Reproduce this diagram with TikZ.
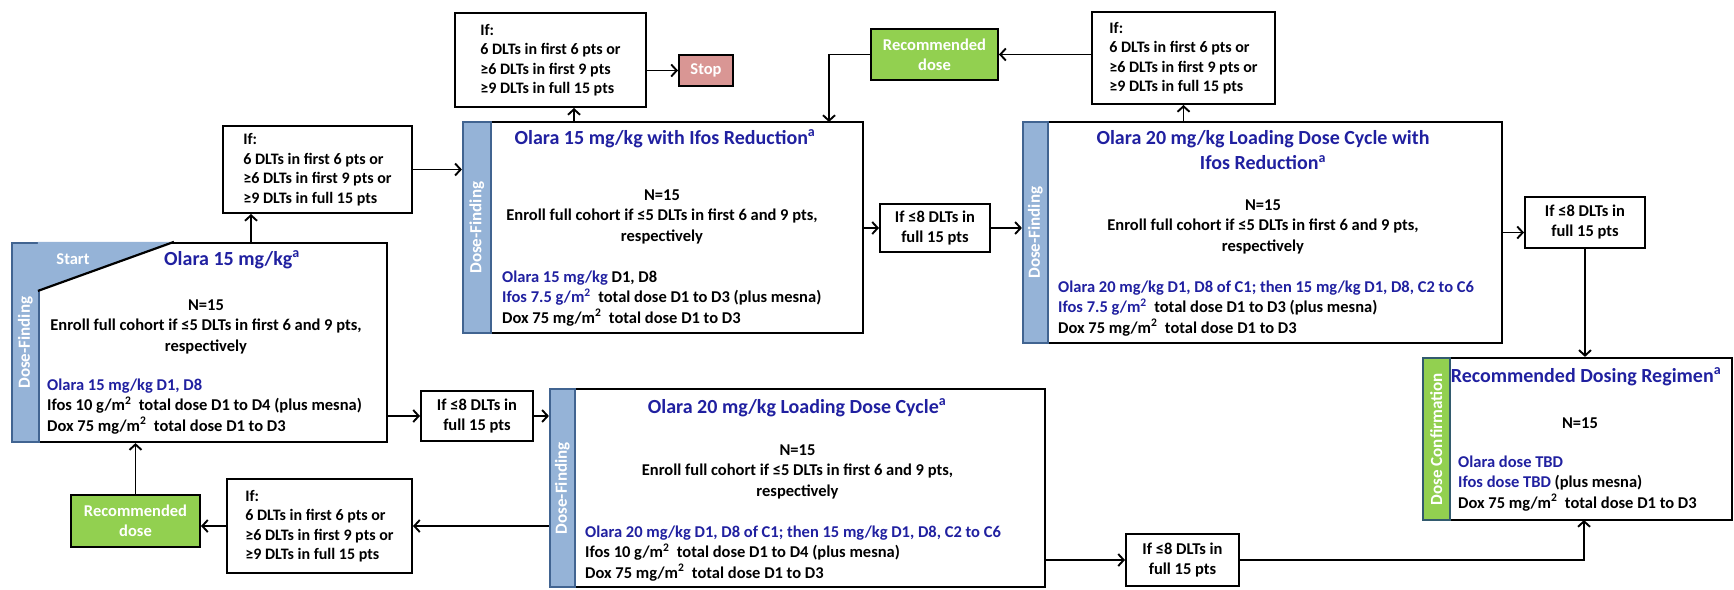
\documentclass[tikz,border=0pt]{standalone}
\usepackage{fontspec}
\setmainfont{Carlito}
\usetikzlibrary{arrows.meta,calc}
\definecolor{olblue}{RGB}{32,32,160}
\definecolor{sideblue}{RGB}{149,179,215}
\definecolor{sideedge}{RGB}{65,100,145}
\definecolor{recgreen}{RGB}{146,208,80}
\definecolor{greenedge}{RGB}{50,90,110}
\definecolor{stopred}{RGB}{217,150,148}

\begin{document}
\begin{tikzpicture}[
    x=1pt, y=-1pt,
    >={Straight Barb[length=5.5pt,width=12pt]},
    arr/.style={->, line width=1.9pt},
    bigbox/.style={draw, line width=2.2pt, inner sep=0pt},
    sidebar/.style={draw=sideedge, fill=sideblue, line width=1.8pt, rotate=90,
        anchor=north west, text=white, inner sep=0pt,
        font=\bfseries\fontsize{17}{18}\selectfont},
    body/.style={inner sep=0pt, font=\bfseries\fontsize{16.5}{20.5}\selectfont},
    title/.style={inner sep=0pt, text=olblue, font=\bfseries\fontsize{20}{25}\selectfont},
    ifbox/.style={draw, line width=2pt, align=left, inner sep=0pt,
        font=\bfseries\fontsize{16}{19.5}\selectfont},
    passbox/.style={draw, line width=2pt, align=center, inner sep=0pt,
        font=\bfseries\fontsize{16.5}{20}\selectfont},
    recbox/.style={draw, line width=2pt, fill=recgreen, text=white, align=center,
        inner sep=0pt, font=\bfseries\fontsize{16.5}{20}\selectfont},
    stopbox/.style={draw, line width=2pt, fill=stopred, text=white, inner sep=0pt,
        font=\bfseries\fontsize{16.5}{20}\selectfont}]

\useasboundingbox (0,0) rectangle (1734,589);

% dose-finding and confirmation boxes
\node[bigbox, minimum width=375pt, minimum height=199pt] (A) at (199.5,342.5) {};
\node[bigbox, minimum width=400pt, minimum height=211pt] (B) at (663,227.5) {};
\node[bigbox, minimum width=495pt, minimum height=198pt] (C) at (797.5,488) {};
\node[bigbox, minimum width=479pt, minimum height=221pt] (D) at (1262.5,232.5) {};
\node[bigbox, minimum width=309pt, minimum height=162pt] (E) at (1577.5,439) {};

% side labels
\node[sidebar, minimum width=199pt, minimum height=27pt] (A-side) at (A.south west) {Dose-Finding};
\node[sidebar, minimum width=211pt, minimum height=28pt] (B-side) at (B.south west) {Dose-Finding};
\node[sidebar, minimum width=198pt, minimum height=25pt] (C-side) at (C.south west) {Dose-Finding};
\node[sidebar, minimum width=221pt, minimum height=25pt] (D-side) at (D.south west) {Dose-Finding};
\node[sidebar, fill=recgreen, draw=greenedge, minimum width=162pt, minimum height=27pt] (E-side) at (E.south west) {Dose Confirmation};

% start corner
\fill[sideblue] ($(A.north west)+(27,0)$) -- ($(A.north west)+(163,0)$) -- ($(A.north west)+(27,49)$) -- cycle;
\draw[line width=2.2pt] ($(A.north west)+(163,0)$) -- ($(A.north west)+(27,49)$);
\node[body, anchor=base, text=white] (start) at (73,264) {Start};

% texts of box A
\node[title, anchor=base] (A-title) at (232,265) {Olara 15 mg/kg\textsuperscript{a}};
\node[body, anchor=north, align=center] (A-rule) at (206,295.6)
    {\strut N=15\\Enroll full cohort if ≤5 DLTs in first 6 and 9 pts,\\respectively};
\node[body, anchor=north west, align=left] (A-dose) at (47,375.6)
    {\strut\textcolor{olblue}{Olara 15 mg/kg D1, D8}\\
     Ifos 10 g/m\textsuperscript{2}\ \ total dose D1 to D4 (plus mesna)\\
     Dox 75 mg/m\textsuperscript{2}\ \ total dose D1 to D3};

% texts of box B
\node[title, anchor=base] (B-title) at (665,144.5) {Olara 15 mg/kg with Ifos Reduction\textsuperscript{a}};
\node[body, anchor=north, align=center] (B-rule) at (662,185.6)
    {\strut N=15\\Enroll full cohort if ≤5 DLTs in first 6 and 9 pts,\\respectively};
\node[body, anchor=north west, align=left] (B-dose) at (502,267.6)
    {\strut\textcolor{olblue}{Olara 15 mg/kg} D1, D8\\
     \textcolor{olblue}{Ifos 7.5 g/m\textsuperscript{2}}\ \ total dose D1 to D3 (plus mesna)\\
     Dox 75 mg/m\textsuperscript{2}\ \ total dose D1 to D3};

% texts of box C
\node[title, anchor=base] (C-title) at (797,413.5) {Olara 20 mg/kg Loading Dose Cycle\textsuperscript{a}};
\node[body, anchor=north, align=center] (C-rule) at (797.5,440.6)
    {\strut N=15\\Enroll full cohort if ≤5 DLTs in first 6 and 9 pts,\\respectively};
\node[body, anchor=north west, align=left] (C-dose) at (585,522.6)
    {\strut\textcolor{olblue}{Olara 20 mg/kg D1, D8 of C1; then 15 mg/kg D1, D8, C2 to C6}\\
     Ifos 10 g/m\textsuperscript{2}\ \ total dose D1 to D4 (plus mesna)\\
     Dox 75 mg/m\textsuperscript{2}\ \ total dose D1 to D3};

% texts of box D
\node[title, anchor=north, align=center] (D-title) at (1263,127)
    {\strut Olara 20 mg/kg Loading Dose Cycle with\\Ifos Reduction\textsuperscript{a}};
\node[body, anchor=north, align=center] (D-rule) at (1263,195.6)
    {\strut N=15\\Enroll full cohort if ≤5 DLTs in first 6 and 9 pts,\\respectively};
\node[body, anchor=north west, align=left] (D-dose) at (1058,277.6)
    {\strut\textcolor{olblue}{Olara 20 mg/kg D1, D8 of C1; then 15 mg/kg D1, D8, C2 to C6}\\
     \textcolor{olblue}{Ifos 7.5 g/m\textsuperscript{2}}\ \ total dose D1 to D3 (plus mesna)\\
     Dox 75 mg/m\textsuperscript{2}\ \ total dose D1 to D3};

% texts of box E
\node[title, anchor=base] (E-title) at (1586,382.5) {Recommended Dosing Regimen\textsuperscript{a}};
\node[body, anchor=base] (E-n) at (1580,428) {N=15};
\node[body, anchor=north west, align=left] (E-dose) at (1458,452.6)
    {\strut\textcolor{olblue}{Olara dose TBD}\\
     \textcolor{olblue}{Ifos dose TBD} (plus mesna)\\
     Dox 75 mg/m\textsuperscript{2}\ \ total dose D1 to D3};

% stopping rules
\node[ifbox, minimum width=189pt, minimum height=87pt] (F1) at (317.5,169.5)
    {If:\\6 DLTs in first 6 pts or\\≥6 DLTs in first 9 pts or\\≥9 DLTs in full 15 pts};
\node[ifbox, minimum width=191pt, minimum height=94pt] (F2) at (550.5,60)
    {If:\\6 DLTs in first 6 pts or\\≥6 DLTs in first 9 pts\\≥9 DLTs in full 15 pts\hspace{24pt}};
\node[ifbox, minimum width=183pt, minimum height=92pt] (F3) at (1183.5,58)
    {If:\\6 DLTs in first 6 pts or\\≥6 DLTs in first 9 pts or\\≥9 DLTs in full 15 pts};
\node[ifbox, minimum width=185pt, minimum height=94pt] (F4) at (319.5,526)
    {If:\\6 DLTs in first 6 pts or\\≥6 DLTs in first 9 pts or\\≥9 DLTs in full 15 pts};

% passing rules
\node[passbox, minimum width=112pt, minimum height=50pt] (P1) at (477,416) {If ≤8 DLTs in\\full 15 pts};
\node[passbox, minimum width=110pt, minimum height=48pt] (P2) at (935,228) {If ≤8 DLTs in\\full 15 pts};
\node[passbox, minimum width=120pt, minimum height=51pt] (P3) at (1585,222.5) {If ≤8 DLTs in\\full 15 pts};
\node[passbox, minimum width=113pt, minimum height=52pt] (P4) at (1182.5,560) {If ≤8 DLTs in\\full 15 pts};

% outcomes
\node[recbox, minimum width=127pt, minimum height=51pt] (G1) at (934.5,54.5) {Recommended\\dose};
\node[recbox, minimum width=129pt, minimum height=52pt] (G2) at (135.5,521) {Recommended\\dose};
\node[stopbox, minimum width=54pt, minimum height=31pt] (stop) at (706,70.5) {Stop};

% connectors
\coordinate (a-up) at (251,243);
\coordinate (b-up) at (574,122);
\coordinate (b-in) at (829,122);
\coordinate (e-in) at (1584,520);
\draw[arr] (a-up) -- (a-up |- F1.south);
\draw[arr] (F1.east) -- (F1.east -| B.west);
\draw[arr] (A.east |- P1.west) -- (P1.west);
\draw[arr] (P1.east) -- (P1.east -| C.west);
\draw[arr] (C.west |- F4.east) -- (F4.east);
\draw[arr] (F4.west) -- (G2.east |- F4.west);
\draw[arr] (G2.north) -- (G2.north |- A.south);
\draw[arr] (b-up) -- (b-up |- F2.south);
\draw[arr] (F2.east |- stop.west) -- (stop.west);
\draw[arr] (G1.west) -| (b-in);
\draw[arr] (F3.south |- D.north) -- (F3.south);
\draw[arr] (F3.west |- G1.east) -- (G1.east);
\draw[arr] (B.east |- P2.west) -- (P2.west);
\draw[arr] (P2.east) -- (P2.east -| D.west);
\draw[arr] (D.east) -- (D.east -| P3.west);
\draw[arr] (P3.south) -- (P3.south |- E.north);
\draw[arr] (C.east |- P4.west) -- (P4.west);
\draw[arr] (P4.east) -| (e-in);
\end{tikzpicture}
\end{document}
